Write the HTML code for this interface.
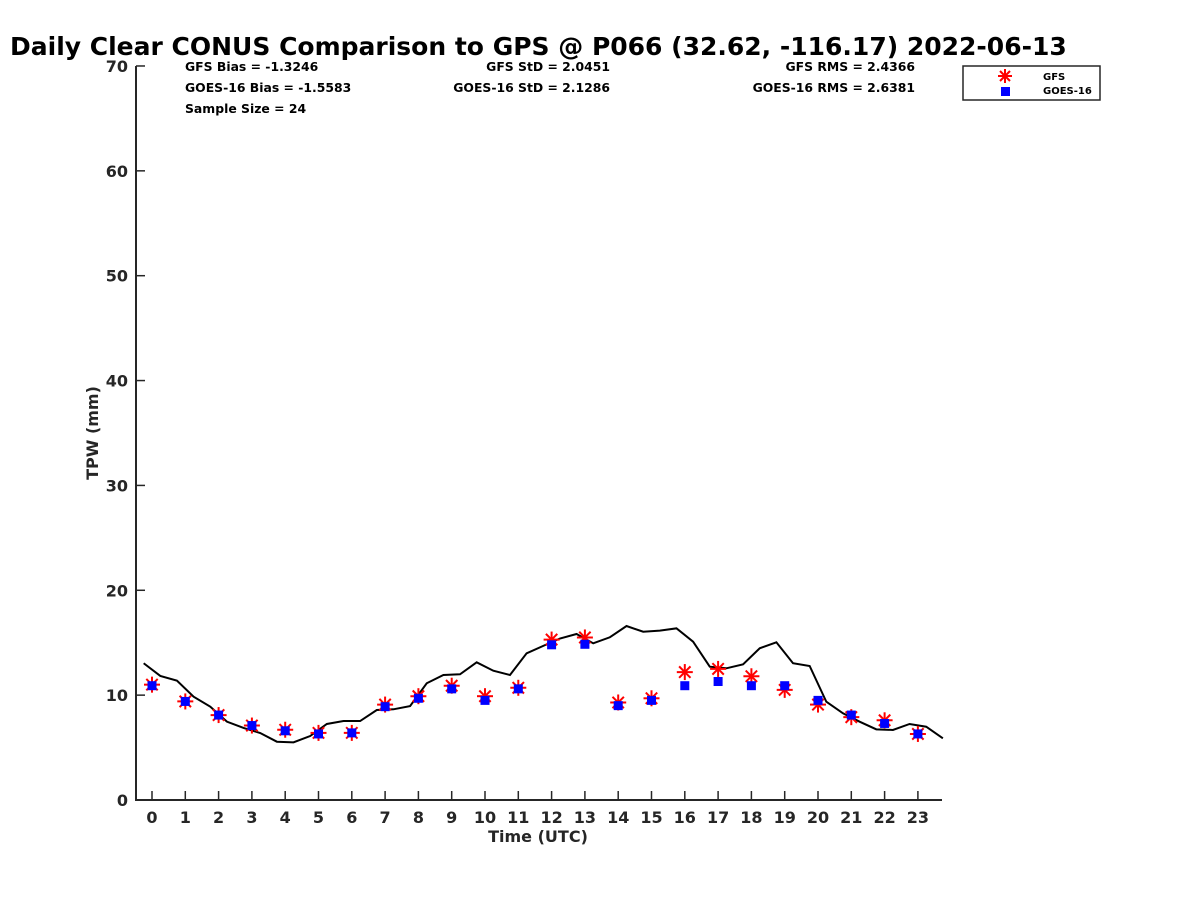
<!DOCTYPE html>
<html><head><meta charset="utf-8"><style>
body{margin:0;background:#fff;}
svg{display:block;font-family:"DejaVu Sans","Liberation Sans",sans-serif;}
</style></head><body>
<svg id="chart" width="1200" height="900" viewBox="0 0 1200 900">
<text x="10" y="55" font-size="25" font-weight="bold" fill="#000">Daily Clear CONUS Comparison to GPS @ P066 (32.62, -116.17) 2022-06-13</text>
<g font-size="12.4" font-weight="bold" fill="#000">
<text x="185" y="71">GFS Bias = -1.3246</text>
<text x="185" y="92">GOES-16 Bias = -1.5583</text>
<text x="185" y="113">Sample Size = 24</text>
<text x="610" y="71" text-anchor="end">GFS StD = 2.0451</text>
<text x="610" y="92" text-anchor="end">GOES-16 StD = 2.1286</text>
<text x="915" y="71" text-anchor="end">GFS RMS = 2.4366</text>
<text x="915" y="92" text-anchor="end">GOES-16 RMS = 2.6381</text>
</g>
<g id="axes"></g>
<g id="marks"></g>
<text x="538" y="842" text-anchor="middle" font-size="16" font-weight="bold" fill="#262626">Time (UTC)</text>
<text transform="translate(98,433) rotate(-90)" text-anchor="middle" font-size="16" font-weight="bold" fill="#262626">TPW (mm)</text>
<g>
<rect x="963" y="66" width="137" height="34" fill="#fff" stroke="#262626" stroke-width="1.5"/>
<g stroke="#ff0000" stroke-width="2">
<line x1="998" y1="76" x2="1012" y2="76"/><line x1="1005" y1="69" x2="1005" y2="83"/><line x1="1000" y1="71" x2="1010" y2="81"/><line x1="1000" y1="81" x2="1010" y2="71"/></g>
<rect x="1001" y="87" width="9" height="9" fill="#0000ff"/>
<text x="1043" y="80" font-size="10" font-weight="bold" fill="#000">GFS</text>
<text x="1043" y="94" font-size="10" font-weight="bold" fill="#000">GOES-16</text>
</g>
</svg>
<script>
const hours=[0,1,2,3,4,5,6,7,8,9,10,11,12,13,14,15,16,17,18,19,20,21,22,23];
const gfsValues=[11.0,9.4,8.1,7.1,6.7,6.4,6.4,9.1,9.9,10.9,9.9,10.7,15.3,15.5,9.3,9.7,12.2,12.5,11.8,10.5,9.1,7.9,7.6,6.3];
const goesValues=[10.9,9.4,8.1,7.1,6.6,6.3,6.4,8.9,9.7,10.6,9.5,10.6,14.8,14.85,9.0,9.5,10.9,11.3,10.9,10.9,9.5,8.1,7.3,6.3];
const gpsTimes=[-0.25,0.25,0.75,1.25,1.75,2.25,2.75,3.25,3.75,4.25,4.75,5.25,5.75,6.25,6.75,7.25,7.75,8.25,8.75,9.25,9.75,10.25,10.75,11.25,11.75,12.25,12.75,13.25,13.75,14.25,14.75,15.25,15.75,16.25,16.75,17.25,17.75,18.25,18.75,19.25,19.75,20.25,20.75,21.25,21.75,22.25,22.75,23.25,23.75];
const gpsValues=[13.04,11.83,11.38,9.85,8.9,7.47,6.87,6.39,5.56,5.5,6.1,7.25,7.53,7.53,8.58,8.65,8.96,11.13,11.92,11.99,13.13,12.33,11.92,13.99,14.7,15.4,15.83,14.94,15.52,16.59,16.05,16.15,16.37,15.1,12.71,12.56,12.94,14.47,15.04,13.04,12.78,9.37,8.27,7.47,6.74,6.68,7.25,6.99,5.88];
const yTicks=[0,10,20,30,40,50,60,70];
const NS="http://www.w3.org/2000/svg";
const X=v=>152+v*33.3;
const Y=v=>800-v*10.486;
const axes=document.getElementById('axes'), marks=document.getElementById('marks');
function mk(tag,attrs,parent){const e=document.createElementNS(NS,tag);for(const k in attrs)e.setAttribute(k,attrs[k]);parent.appendChild(e);return e;}
let yl=mk('line',{x1:136,y1:66,x2:136,y2:800,stroke:'#262626','stroke-width':2},axes);


let xl=mk('line',{x1:135,y1:800,x2:942,y2:800,stroke:'#262626','stroke-width':2},axes);


yTicks.forEach(t=>{
  const tk=mk('line',{x1:136,y1:Y(t),x2:145,y2:Y(t),stroke:'#262626','stroke-width':1.5},axes);
  
  
  const tx=mk('text',{x:128,y:Y(t)+6,'text-anchor':'end','font-size':16,'font-weight':'bold',fill:'#262626'},axes);
  tx.textContent=t;
  
  
});
hours.forEach(h=>{
  const tk=mk('line',{x1:X(h),y1:800,x2:X(h),y2:791,stroke:'#262626','stroke-width':1.5},axes);
  
  
  const tx=mk('text',{x:X(h),y:823,'text-anchor':'middle','font-size':16,'font-weight':'bold',fill:'#262626'},axes);
  tx.textContent=h;
  
  
});
const line=mk('polyline',{points:gpsTimes.map((t,i)=>X(t)+','+Y(gpsValues[i])).join(' '),fill:'none',stroke:'#000','stroke-width':2},marks);


hours.forEach((h,i)=>{
  const cx=X(h),cy=Y(gfsValues[i]);
  const g=mk('g',{stroke:'#ff0000','stroke-width':2},marks);
  
  
  mk('line',{x1:cx-8,y1:cy,x2:cx+8,y2:cy},g);
  mk('line',{x1:cx,y1:cy-8,x2:cx,y2:cy+8},g);
  mk('line',{x1:cx-5.7,y1:cy-5.7,x2:cx+5.7,y2:cy+5.7},g);
  mk('line',{x1:cx-5.7,y1:cy+5.7,x2:cx+5.7,y2:cy-5.7},g);
});
hours.forEach((h,i)=>{
  const r=mk('rect',{x:X(h)-4.5,y:Y(goesValues[i])-4.5,width:9,height:9,fill:'#0000ff'},marks);
  
  
});
</script>
</body></html>
